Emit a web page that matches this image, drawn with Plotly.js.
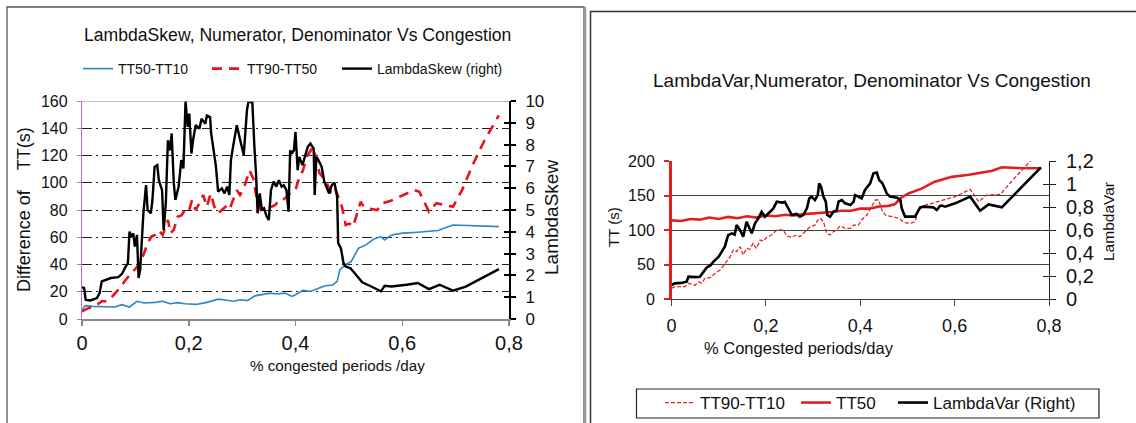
<!DOCTYPE html>
<html>
<head>
<meta charset="utf-8">
<script src="https://cdn.plot.ly/plotly-3.0.1.min.js"></script>
<style>html,body{margin:0;padding:0;background:#fff;}#chart{width:1136px;height:423px;}</style>
</head>
<body>
<div id="chart"></div>
<script>
// ---------- Left chart data ----------
const xSpread1090 = [0,0.006,0.019,0.04,0.061,0.075,0.089,0.103,0.117,0.137,0.151,0.165,0.179,0.193,0.214,0.234,0.255,0.269,0.283,0.297,0.31,0.324,0.338,0.352,0.366,0.38,0.393,0.4,0.414,0.428,0.442,0.456,0.47,0.478,0.483,0.494,0.504,0.518,0.532,0.546,0.56,0.567,0.58,0.601,0.629,0.667,0.695,0.781];
const tt50minus10 = [6.8,9.8,9.3,9.3,8.8,10.5,8.8,13,11.7,12.2,13,11.2,12,11.2,10.7,12.2,14.6,14,13,14.1,13.5,17,17.8,19,18.4,19,16.6,17.8,21,20.2,22.4,24.4,25,27.6,36,40,42,52,54.4,58.5,60.5,58,61.7,63,63.7,64.9,69,67.8];

const xSpread9050 = [0,0.012,0.026,0.037,0.047,0.054,0.068,0.082,0.096,0.109,0.116,0.123,0.13,0.137,0.144,0.151,0.157,0.161,0.166,0.172,0.179,0.186,0.193,0.2,0.206,0.213,0.22,0.227,0.234,0.241,0.248,0.255,0.262,0.269,0.276,0.283,0.29,0.296,0.303,0.314,0.321,0.328,0.335,0.342,0.349,0.355,0.362,0.369,0.376,0.383,0.393,0.4,0.407,0.414,0.421,0.432,0.438,0.445,0.456,0.466,0.473,0.48,0.487,0.494,0.501,0.508,0.515,0.522,0.528,0.539,0.553,0.563,0.58,0.601,0.622,0.632,0.65,0.664,0.677,0.695,0.712,0.733,0.754,0.781];
const tt90minus50 = [5.6,8,9.8,13,13,15.4,21.5,28.8,35,41,48,55.6,60.5,61.7,65,61.7,67.8,72.7,63,65.4,75,76,80,78.8,87,80,85,91,82.4,92,82.4,77.6,80,82.4,80,87,94.6,91,95.9,109,103,87,80,82.4,81,82.4,83.7,87,87,89.8,93.4,94.6,104,109,119,126,119,107,102,93.4,97,89.8,82.4,69,70,67.8,77.6,86,82.4,81,80,85,87,91,94.6,93.4,78.8,85,83.7,82.4,94.6,114,131,149.5];

const xSkew = [0,0.004,0.007,0.016,0.028,0.033,0.037,0.047,0.054,0.068,0.075,0.082,0.086,0.089,0.092,0.096,0.099,0.103,0.106,0.109,0.115,0.12,0.123,0.129,0.132,0.136,0.141,0.144,0.15,0.153,0.157,0.161,0.165,0.168,0.172,0.175,0.181,0.186,0.19,0.194,0.198,0.201,0.205,0.208,0.213,0.22,0.224,0.231,0.234,0.24,0.242,0.247,0.251,0.255,0.262,0.267,0.272,0.276,0.279,0.284,0.29,0.295,0.3,0.303,0.309,0.312,0.316,0.319,0.323,0.326,0.329,0.333,0.337,0.341,0.346,0.35,0.354,0.359,0.364,0.369,0.374,0.378,0.383,0.387,0.39,0.393,0.397,0.4,0.404,0.407,0.413,0.418,0.423,0.428,0.434,0.436,0.439,0.443,0.449,0.454,0.459,0.463,0.468,0.473,0.478,0.48,0.485,0.49,0.494,0.503,0.511,0.525,0.542,0.56,0.567,0.58,0.608,0.629,0.65,0.67,0.695,0.719,0.781];
const lambdaSkew = [1.46,1.42,0.88,0.85,0.96,1.19,1.72,1.83,1.88,1.92,2.07,2.41,2.56,4.01,3.78,3.93,3.32,3.86,1.88,2.26,4.85,6.14,5.0,4.85,5.46,6.98,7.06,6.37,5.91,4.09,5.3,8.2,7.74,8.51,6.22,5.46,6.07,7.29,6.91,10.0,8.81,9.42,7.59,8.2,8.89,8.73,9.19,8.96,9.34,9.27,8.51,7.67,6.98,5.84,5.99,5.76,6.07,5.69,7.29,8.05,8.89,8.35,7.9,7.52,9.57,10.0,9.95,10.0,7.9,6.68,4.85,5.76,5.0,5.08,4.7,4.54,5.91,6.3,6.07,6.37,6.07,6.14,5.91,4.92,7.74,7.59,7.74,8.58,6.83,7.44,7.06,7.52,7.9,8.05,7.82,5.69,7.44,7.29,6.98,6.3,5.99,5.76,6.14,6.25,5.61,3.48,3.25,2.56,2.41,2.33,2.1,1.68,1.49,1.27,1.52,1.49,1.57,1.65,1.37,1.57,1.3,1.49,2.29];

// ---------- Right chart data ----------
const xSpread9010 = [0,0.007,0.029,0.036,0.05,0.057,0.064,0.071,0.082,0.092,0.103,0.113,0.124,0.131,0.138,0.145,0.152,0.159,0.166,0.173,0.18,0.188,0.195,0.202,0.212,0.223,0.237,0.244,0.255,0.265,0.272,0.283,0.294,0.304,0.31,0.315,0.322,0.329,0.336,0.343,0.35,0.357,0.368,0.379,0.386,0.396,0.403,0.414,0.424,0.432,0.439,0.446,0.453,0.467,0.481,0.495,0.506,0.516,0.523,0.538,0.552,0.573,0.601,0.633,0.651,0.668,0.697,0.72,0.742,0.764,0.785];
const tt90minus10 = [15.5,18,18,22.7,20,25,23,30,31,37,42,51.7,61,71,68.6,75.8,63.8,73.4,72,80.7,73.4,85.5,84,89.4,92.8,100,100,91.3,89.4,92.8,90.3,97.6,104.8,107,114.5,117,112,95,92.8,97.6,100,105.8,102.4,102.4,107,107,114.5,121.7,133.8,143.5,143.5,129,121.7,119.3,117,110.6,109.7,112,129,136,138.6,143.5,148.3,159,141,150.7,151.7,170,187,204,218];

const xTT50 = [0,0.02,0.04,0.06,0.08,0.1,0.12,0.14,0.16,0.18,0.2,0.22,0.24,0.26,0.28,0.3,0.32,0.34,0.36,0.38,0.4,0.42,0.44,0.46,0.474,0.485,0.502,0.53,0.558,0.594,0.63,0.658,0.68,0.7,0.743,0.783];
const tt50 = [114,113,116,115,118,116,119,117,120,118,121,120,122,121,123,124,124,126,128,128,131,131,134,135,137.7,146,153,160,170,177,180,183,186,191,189.5,189.4];

const xVar = [0,0.007,0.021,0.032,0.036,0.05,0.06,0.067,0.075,0.082,0.089,0.1,0.106,0.113,0.12,0.128,0.134,0.138,0.145,0.152,0.159,0.166,0.17,0.177,0.184,0.191,0.198,0.209,0.216,0.223,0.234,0.24,0.248,0.255,0.265,0.272,0.279,0.287,0.292,0.297,0.304,0.31,0.313,0.317,0.322,0.327,0.33,0.336,0.343,0.35,0.354,0.361,0.368,0.379,0.386,0.389,0.396,0.403,0.41,0.421,0.428,0.435,0.44,0.447,0.456,0.463,0.478,0.485,0.488,0.495,0.516,0.527,0.534,0.555,0.562,0.569,0.573,0.58,0.601,0.633,0.654,0.672,0.7,0.783];
const lambdaVar = [0.122,0.136,0.14,0.15,0.194,0.19,0.194,0.229,0.275,0.29,0.325,0.368,0.41,0.455,0.556,0.571,0.56,0.643,0.6,0.542,0.672,0.614,0.571,0.658,0.701,0.759,0.716,0.759,0.788,0.846,0.838,0.846,0.788,0.73,0.74,0.716,0.73,0.788,0.875,0.89,0.86,0.904,1.006,0.977,0.89,0.846,0.73,0.716,0.759,0.77,0.846,0.861,0.832,0.817,0.846,0.904,0.89,0.875,0.948,1.006,1.093,1.099,1.035,1.006,0.919,0.89,0.881,0.861,0.788,0.716,0.716,0.797,0.803,0.797,0.774,0.809,0.812,0.803,0.832,0.89,0.768,0.823,0.797,1.145];

// ---------- Text ----------
const leftTitle = 'LambdaSkew, Numerator, Denominator Vs Congestion';
const leftXTitle = '% congested periods /day';
const leftYTitle = 'Difference of \u00a0\u00a0\u00a0TT(s)';
const leftY2Title = 'LambdaSkew';
const rightTitle = 'LambdaVar,Numerator, Denominator Vs Congestion';
const rightXTitle = '% Congested periods/day';
const rightYTitle = 'TT (s)';
const rightY2Title = 'LambdaVar';

// ---------- Layout helpers ----------
const W = 1136, H = 423;
const PX = v => v / W;
const PY = v => 1 - v / H;
const REG = '"Liberation Sans", Arial, sans-serif';
const TXT = '#111';

const traces = [
  {x: xSpread1090, y: tt50minus10, name: 'TT50-TT10', type: 'scatter', mode: 'lines',
   xaxis: 'x', yaxis: 'y', line: {color: '#2f85c6', width: 1.6}, legend: 'legend', legendwidth: 84},
  {x: xSpread9050, y: tt90minus50, name: 'TT90-TT50', type: 'scatter', mode: 'lines',
   xaxis: 'x', yaxis: 'y', line: {color: '#e8121b', width: 2.6, dash: '10px,7px'}, legend: 'legend', legendwidth: 85},
  {x: xSkew, y: lambdaSkew, name: 'LambdaSkew (right)', type: 'scatter', mode: 'lines',
   xaxis: 'x', yaxis: 'y2', line: {color: '#000', width: 2.4}, legend: 'legend'},
  {x: [null], y: [null], xaxis: 'x', yaxis: 'y5', type: 'scatter', mode: 'lines', showlegend: false, hoverinfo: 'skip'},

  {x: xSpread9010, y: tt90minus10, name: 'TT90-TT10', type: 'scatter', mode: 'lines',
   xaxis: 'x2', yaxis: 'y3', line: {color: '#e02626', width: 1.3, dash: '4px,2px'}, legend: 'legend2', legendwidth: 91},
  {x: xTT50, y: tt50, name: 'TT50', type: 'scatter', mode: 'lines',
   xaxis: 'x2', yaxis: 'y3', line: {color: '#e41e1e', width: 2.6}, legend: 'legend2', legendwidth: 52},
  {x: xVar, y: lambdaVar, name: 'LambdaVar (Right)', type: 'scatter', mode: 'lines',
   xaxis: 'x2', yaxis: 'y4', line: {color: '#000', width: 2.6}, legend: 'legend2'},
  {x: [null], y: [null], xaxis: 'x2', yaxis: 'y6', type: 'scatter', mode: 'lines', showlegend: false, hoverinfo: 'skip'}
];

const leftDom = {x: [PX(82), PX(509)], y: [PY(319), PY(101)]};
const rightDom = {x: [PX(671.5), PX(1049)], y: [PY(299), PY(161)]};

const layout = {
  width: W, height: H, autosize: false,
  margin: {l: 0, r: 0, t: 0, b: 0, pad: 0},
  paper_bgcolor: '#fff', plot_bgcolor: 'rgba(0,0,0,0)',
  separators: ', ',
  showlegend: true,
  hovermode: false,
  font: {family: REG, color: TXT},

  xaxis: {domain: leftDom.x, anchor: 'y', range: [0, 0.8], dtick: 0.2, tick0: 0,
    showgrid: false, zeroline: false, showline: true, linecolor: '#888', linewidth: 1.5,
    ticks: 'outside', ticklen: 5, tickcolor: '#888', tickwidth: 1.5,
    tickfont: {family: REG, size: 20, color: TXT}, ticklabelstandoff: 0},
  yaxis: {domain: leftDom.y, anchor: 'x', range: [0, 160], dtick: 20, tick0: 0,
    showgrid: true, gridcolor: '#222', gridwidth: 1, griddash: '10px,4px,2px,4px',
    zeroline: false, showline: true, linecolor: '#cc66cc', linewidth: 1.2,
    ticks: 'outside', ticklen: 4, tickcolor: '#cc66cc',
    tickfont: {family: REG, size: 16, color: TXT}, ticklabelstandoff: 6},
  yaxis2: {overlaying: 'y', side: 'right', anchor: 'x', range: [0, 10], dtick: 1, tick0: 0,
    showgrid: false, zeroline: false, showline: true, linecolor: '#000', linewidth: 2,
    ticks: 'outside', ticklen: 5, tickwidth: 2, tickcolor: '#000',
    tickfont: {family: REG, size: 17, color: TXT}, ticklabelstandoff: 6},
  yaxis5: {overlaying: 'y', side: 'right', anchor: 'x', range: [0, 10], dtick: 1, tick0: 0,
    showgrid: false, zeroline: false, showline: false,
    ticks: 'inside', ticklen: 5, tickwidth: 2, tickcolor: '#000', showticklabels: false},

  xaxis2: {domain: rightDom.x, anchor: 'y3', range: [0, 0.8], dtick: 0.2, tick0: 0,
    showgrid: false, zeroline: false, showline: true, linecolor: '#444', linewidth: 1,
    ticks: 'outside', ticklen: 6, tickcolor: '#444',
    tickfont: {family: REG, size: 18, color: TXT}, ticklabelstandoff: 4},
  yaxis3: {domain: rightDom.y, anchor: 'x2', range: [0, 200], dtick: 50, tick0: 0,
    showgrid: true, gridcolor: '#444', gridwidth: 1,
    zeroline: false, showline: true, linecolor: '#e41e1e', linewidth: 2.5,
    ticks: 'outside', ticklen: 5, tickwidth: 2, tickcolor: '#e41e1e',
    tickfont: {family: REG, size: 16, color: TXT}, ticklabelstandoff: 6},
  yaxis4: {overlaying: 'y3', side: 'right', anchor: 'x2', range: [0, 1.2], dtick: 0.2, tick0: 0,
    showgrid: false, zeroline: false, showline: true, linecolor: '#222', linewidth: 1,
    ticks: 'outside', ticklen: 6, tickcolor: '#222',
    tickfont: {family: REG, size: 20, color: TXT}, ticklabelstandoff: 6},
  yaxis6: {overlaying: 'y3', side: 'right', anchor: 'x2', range: [0, 1.2], dtick: 0.2, tick0: 0,
    showgrid: false, zeroline: false, showline: false,
    ticks: 'inside', ticklen: 6, tickcolor: '#222', showticklabels: false},

  legend: {orientation: 'h', x: PX(78), xanchor: 'left', y: PY(69), yanchor: 'middle',
    bgcolor: 'rgba(0,0,0,0)', borderwidth: 0,
    font: {family: REG, size: 14, color: TXT}, tracegroupgap: 0},
  legend2: {orientation: 'h', x: PX(660), xanchor: 'left', y: PY(403), yanchor: 'middle',
    bgcolor: 'rgba(0,0,0,0)', borderwidth: 0,
    font: {family: REG, size: 17, color: TXT}},

  shapes: [
    {type: 'rect', xref: 'paper', yref: 'paper', x0: PX(7), x1: PX(584), y0: PY(440), y1: PY(7),
     line: {color: '#555', width: 1.3}, fillcolor: 'rgba(0,0,0,0)'},
    {type: 'line', xref: 'paper', yref: 'paper', x0: PX(585), x1: PX(585), y0: PY(440), y1: PY(7),
     line: {color: '#999', width: 2.5}},
    {type: 'rect', xref: 'paper', yref: 'paper', x0: PX(590.5), x1: PX(1150), y0: PY(440), y1: PY(11.5),
     line: {color: '#333', width: 1.5}, fillcolor: 'rgba(0,0,0,0)'},
    {type: 'line', xref: 'x', yref: 'y', x0: 0, x1: 0.8, y0: 160, y1: 160,
     line: {color: '#aaa', width: 1.5}, layer: 'above'},
    {type: 'rect', xref: 'paper', yref: 'paper', x0: PX(636.5), x1: PX(1099), y0: PY(418), y1: PY(389),
     line: {color: '#222', width: 1.2}, fillcolor: 'rgba(0,0,0,0)'}
  ],

  annotations: [
    {text: leftTitle, xref: 'paper', yref: 'paper', x: PX(297), y: PY(35), xanchor: 'center', yanchor: 'middle',
     showarrow: false, font: {family: REG, size: 17.6, color: TXT}},
    {text: leftXTitle, xref: 'paper', yref: 'paper', x: PX(337), y: PY(365), xanchor: 'center', yanchor: 'middle',
     showarrow: false, font: {family: REG, size: 15.2, color: TXT}},
    {text: leftYTitle, xref: 'paper', yref: 'paper', x: PX(24), y: PY(210), xanchor: 'center', yanchor: 'middle',
     textangle: -90, showarrow: false, font: {family: REG, size: 18, color: TXT}},
    {text: leftY2Title, xref: 'paper', yref: 'paper', x: PX(551), y: PY(218), xanchor: 'center', yanchor: 'middle',
     textangle: -90, showarrow: false, font: {family: REG, size: 19, color: TXT}},
    {text: rightTitle, xref: 'paper', yref: 'paper', x: PX(872), y: PY(81), xanchor: 'center', yanchor: 'middle',
     showarrow: false, font: {family: REG, size: 19, color: TXT}},
    {text: rightXTitle, xref: 'paper', yref: 'paper', x: PX(799), y: PY(348), xanchor: 'center', yanchor: 'middle',
     showarrow: false, font: {family: REG, size: 16.5, color: TXT}},
    {text: rightYTitle, xref: 'paper', yref: 'paper', x: PX(613), y: PY(227), xanchor: 'center', yanchor: 'middle',
     textangle: -90, showarrow: false, font: {family: REG, size: 15, color: TXT}},
    {text: rightY2Title, xref: 'paper', yref: 'paper', x: PX(1108), y: PY(222), xanchor: 'center', yanchor: 'middle',
     textangle: -90, showarrow: false, font: {family: REG, size: 15.5, color: TXT}}
  ]
};

Plotly.newPlot('chart', traces, layout, {staticPlot: true, displayModeBar: false});
</script>
</body>
</html>
